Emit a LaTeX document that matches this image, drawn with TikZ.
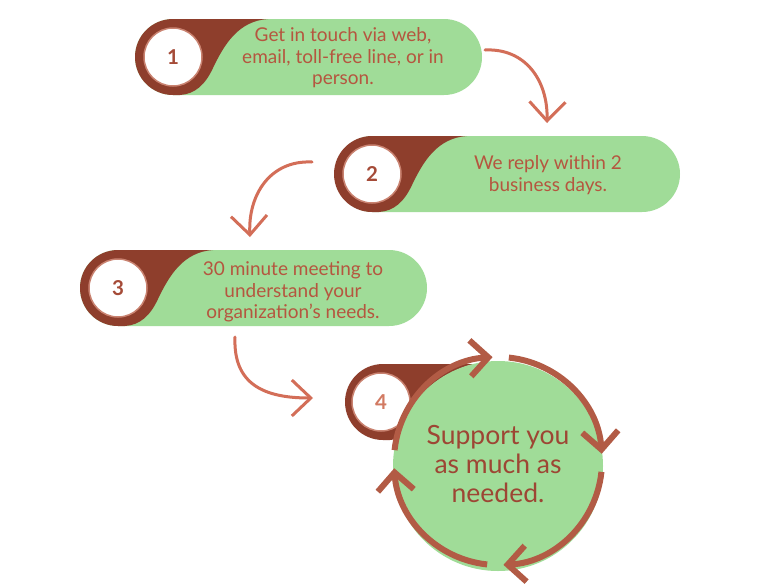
\documentclass[tikz,border=0pt]{standalone}
\usepackage{fontspec}
\setmainfont{Lato}
\usetikzlibrary{arrows.meta}
\definecolor{pgreen}{HTML}{A0DC98}
\definecolor{pbrown}{HTML}{8E3E2C}
\definecolor{ringc}{HTML}{B25B45}
\definecolor{arrc}{HTML}{D36E58}
\definecolor{ptext}{HTML}{B5563F}
\definecolor{ctext}{HTML}{9D4634}
\definecolor{numc}{HTML}{A54B38}
\definecolor{numfour}{HTML}{D27A62}
\definecolor{halo}{HTML}{C98270}
\newcommand\myswoosh[2]{%
  \fill[pbrown] (#1,#2) circle[radius=38];
  \begin{scope}[shift={(#1,#2)}]
    \fill[pbrown] (0,-38) -- (95,-38) .. controls (65,-36) and (51,-12) .. (40,11)
      .. controls (32,28) and (22,37) .. (7,38) -- (0,38) -- cycle;
  \end{scope}}
\begin{document}
\begin{tikzpicture}[x=1pt,y=-1pt,
  pill/.style={fill=pgreen, rounded corners=38pt, minimum height=76pt, inner sep=0pt},
  numcirc/.style={circle, fill=white, draw=halo, line width=1.5pt, minimum size=58pt, inner sep=0pt,
    font=\bfseries\fontsize{20.5}{20.5}\selectfont, text=numc},
  ptxt/.style={align=center, text=ptext, font=\fontsize{19}{21.5}\selectfont, inner sep=0pt},
  ctxt/.style={align=center, text=ctext, font=\fontsize{26.5}{29}\selectfont, inner sep=0pt},
  conn/.style={draw=arrc, line width=3pt, line cap=round, -{Straight Barb[length=19pt,width=36pt]}},
  ring/.style={draw=ringc, line width=6pt, -{Straight Barb[length=18pt,width=36pt]}}]
\useasboundingbox (0,0) rectangle (760,584);
\fill[white] (0,0) rectangle (760,584);

% pills
\node[pill, minimum width=347pt] (p1) at (308.5,57) {};
\node[pill, minimum width=345pt] (p2) at (507.5,174) {};
\node[pill, minimum width=347pt] (p3) at (253.5,288) {};

\myswoosh{173}{57}
\myswoosh{372}{174}
\myswoosh{118}{288}
\myswoosh{383}{402}

\node[numcirc] (n1) at (173,57) {1};
\node[numcirc] (n2) at (372,174) {2};
\node[numcirc] (n3) at (118,288) {3};
\node[numcirc, text=numfour] (n4) at (381,402) {4};

% big circle
\node[circle, fill=pgreen, minimum size=210pt, inner sep=0pt] (c4) at (498,466) {};
\coordinate (rc) at (498,461);
\draw[ring] (rc) ++(-174:104) arc[start angle=-174, end angle=-93, radius=104];
\draw[ring] (rc) ++(-84:104) arc[start angle=-84, end angle=-4, radius=104];
\draw[ring] (rc) ++(6:104) arc[start angle=6, end angle=87, radius=104];
\draw[ring] (rc) ++(96:104) arc[start angle=96, end angle=176, radius=104];

% texts
\node[ptxt] (t1) at (343,58) {Get in touch via web,\\email, toll-free line, or in\\person.};
\node[ptxt] (t2) at (548,175) {We reply within 2\\business days.};
\node[ptxt] (t3) at (293,292) {30 minute meeting to\\understand your\\organization’s needs.};
\node[ctxt] (t4) at (498,464) {Support you\\as much as\\needed.};

% connectors
\coordinate (a1s) at (485,50);
\coordinate (a1e) at (547,123);
\draw[conn] (a1s) .. controls (525,48) and (548,80) .. (a1e);
\coordinate (a2s) at (312,162);
\coordinate (a2e) at (250,237);
\draw[conn] (a2s) .. controls (270,160) and (248,195) .. (a2e);
\coordinate (a3s) at (235,337);
\coordinate (a3e) at (313,398);
\draw[conn] (a3s) .. controls (233,385) and (265,398) .. (a3e);
\end{tikzpicture}
\end{document}
